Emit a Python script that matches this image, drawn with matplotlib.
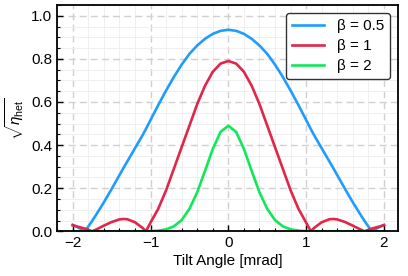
import matplotlib
matplotlib.use("Agg")
import matplotlib.pyplot as plt
from matplotlib.ticker import MultipleLocator, FormatStrFormatter

plt.rcParams['font.family'] = ['Liberation Sans', 'DejaVu Sans']
plt.rcParams['mathtext.fontset'] = 'custom'
plt.rcParams['mathtext.rm'] = 'Liberation Sans'
plt.rcParams['mathtext.it'] = 'Liberation Sans:italic'

# half-profiles (curves are symmetric about 0)
x_half = [0.0, 0.1, 0.2, 0.3, 0.4, 0.5, 0.6, 0.7, 0.8, 0.9, 1.0, 1.06, 1.1, 1.2,
          1.3, 1.35, 1.4, 1.5, 1.6, 1.7, 1.75, 1.8, 1.84, 1.9, 2.0]
blue_half = [0.935, 0.930, 0.916, 0.893, 0.862, 0.823, 0.773, 0.716, 0.653, 0.586, 0.516, 0.474, 0.447, 0.385,
             0.323, 0.292, 0.260, 0.196, 0.134, 0.076, 0.048, 0.022, 0.0, 0.012, 0.03]
red_half = [0.79, 0.778, 0.74, 0.675, 0.59, 0.49, 0.39, 0.29, 0.19, 0.105, 0.04, 0.0, 0.015, 0.042,
            0.056, 0.057, 0.055, 0.043, 0.026, 0.008, 0.0, 0.007, 0.012, 0.018, 0.028]
green_half = [0.49, 0.461, 0.382, 0.28, 0.181, 0.104, 0.052, 0.023, 0.009, 0.003, 0.001, 0.0, 0.0, 0.0,
              0.0, 0.0, 0.0, 0.0, 0.0, 0.0, 0.0, 0.0, 0.0, 0.0, 0.0]
labels = ['β = 0.5', 'β = 1', 'β = 2']
colors = ['#1f9dff', '#e0264a', '#10e85a']


def full(xh, yh):
    xs = [-v for v in xh[::-1]] + xh[1:]
    ys = yh[::-1] + yh[1:]
    return xs, ys


fig = plt.figure(figsize=(4.08, 2.76), dpi=100)
ax = fig.add_axes([0.14, 0.162, 0.8355, 0.820])

for yh, lab, c in zip([blue_half, red_half, green_half], labels, colors):
    xs, ys = full(x_half, yh)
    ax.plot(xs, ys, color=c, lw=1.9, label=lab, solid_joinstyle='round')

ax.set_xlim(-2.2, 2.18)
ax.set_ylim(0, 1.05)
ax.xaxis.set_major_locator(MultipleLocator(1))
ax.xaxis.set_minor_locator(MultipleLocator(0.2))
ax.yaxis.set_major_locator(MultipleLocator(0.2))
ax.yaxis.set_minor_locator(MultipleLocator(0.05))
ax.yaxis.set_major_formatter(FormatStrFormatter('%.1f'))

ax.grid(which='major', color='#d0d0d0', linestyle=(0, (5, 3)), lw=1.0)
ax.grid(which='minor', color='#ececec', linestyle='-', lw=0.6)
ax.set_axisbelow(True)

ax.tick_params(which='both', direction='in', top=False, right=False, labelsize=11)
ax.tick_params(which='major', length=4.5, width=1.0)
ax.tick_params(which='minor', length=2.5, width=0.8)
for s in ax.spines.values():
    s.set_linewidth(1.3)
    s.set_color('black')

ax.set_xlabel('Tilt Angle [mrad]', fontsize=11, labelpad=3)
ax.set_ylabel(r'$\sqrt{\eta_{\mathrm{het}}}$', fontsize=11, labelpad=4)

leg = ax.legend(loc='upper right', fontsize=11, handlelength=2.1, handletextpad=0.8,
                labelspacing=0.4, borderpad=0.4, fancybox=True, framealpha=1,
                bbox_to_anchor=(0.99, 0.985), borderaxespad=0.3)
leg.get_frame().set_edgecolor('#333333')
leg.get_frame().set_linewidth(1.0)

fig.savefig('out.png', dpi=100)
